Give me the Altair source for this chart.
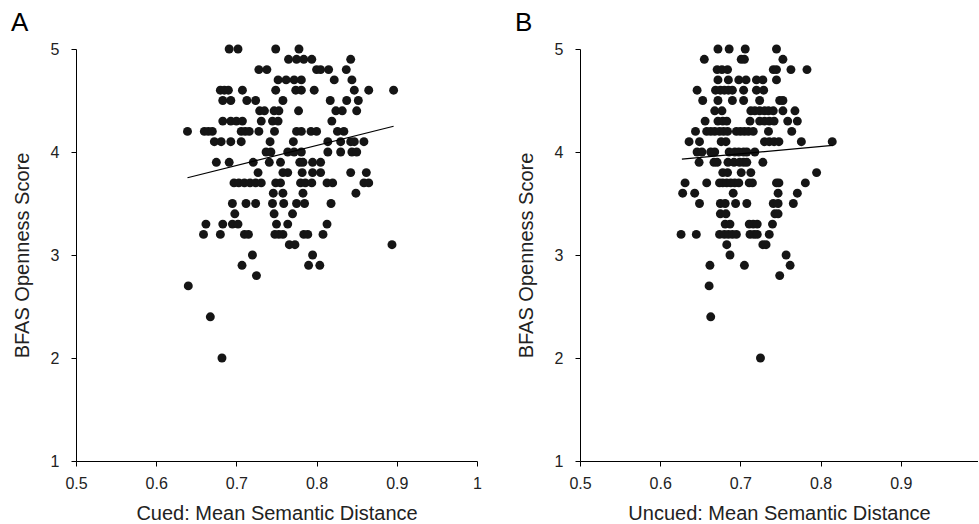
import altair as alt
import pandas as pd

# ---- Panel A (Cued) : BFAS score levels and mean semantic distance of each participant
cued_levels = [5.0, 4.9, 4.8, 4.7, 4.6, 4.5, 4.4, 4.3, 4.2, 4.1, 4.0, 3.9, 3.8, 3.7,
               3.6, 3.5, 3.4, 3.3, 3.2, 3.1, 3.0, 2.9, 2.8, 2.7, 2.4, 2.0]
cued_x_by_level = [
    [0.691, 0.702, 0.749, 0.778],
    [0.765, 0.775, 0.784, 0.794, 0.8425],
    [0.728, 0.738, 0.800, 0.805, 0.815, 0.837],
    [0.752, 0.762, 0.772, 0.781, 0.822, 0.844],
    [0.680, 0.685, 0.690, 0.7075, 0.749, 0.774, 0.781, 0.797, 0.847, 0.865, 0.896],
    [0.683, 0.693, 0.713, 0.724, 0.758, 0.817, 0.8375, 0.852],
    [0.729, 0.735, 0.747, 0.753, 0.7775, 0.824, 0.832, 0.850],
    [0.683, 0.693, 0.700, 0.7075, 0.731, 0.745, 0.752, 0.819],
    [0.639, 0.660, 0.665, 0.670, 0.706, 0.711, 0.716, 0.728, 0.7475, 0.775, 0.781,
     0.793, 0.800, 0.826, 0.834],
    [0.6725, 0.681, 0.693, 0.706, 0.742, 0.771, 0.814, 0.830, 0.8425, 0.847, 0.859],
    [0.737, 0.743, 0.764, 0.772, 0.781, 0.814, 0.830, 0.844, 0.850],
    [0.675, 0.691, 0.721, 0.741, 0.755, 0.779, 0.783, 0.795, 0.805],
    [0.727, 0.758, 0.764, 0.782, 0.795, 0.805, 0.8425, 0.862],
    [0.697, 0.703, 0.710, 0.717, 0.724, 0.731, 0.749, 0.755, 0.780, 0.786, 0.794,
     0.813, 0.820, 0.859, 0.865],
    [0.746, 0.758, 0.783, 0.849],
    [0.695, 0.712, 0.724, 0.745, 0.759, 0.775, 0.785, 0.818],
    [0.698, 0.747, 0.770],
    [0.662, 0.683, 0.695, 0.702, 0.750, 0.764, 0.813],
    [0.659, 0.680, 0.710, 0.715, 0.748, 0.753, 0.758, 0.784, 0.789, 0.808],
    [0.766, 0.773, 0.894],
    [0.720, 0.795],
    [0.707, 0.790, 0.804],
    [0.725],
    [0.640],
    [0.6675],
    [0.682],
]
cued_fit_x = [0.639, 0.896]
cued_fit_y = [3.75, 4.25]

# ---- Panel B (Uncued)
uncued_levels = [5.0, 4.9, 4.8, 4.7, 4.6, 4.5, 4.4, 4.3, 4.2, 4.1, 4.0, 3.9, 3.8, 3.7,
                 3.6, 3.5, 3.4, 3.3, 3.2, 3.1, 3.0, 2.9, 2.8, 2.7, 2.4, 2.0]
uncued_x_by_level = [
    [0.672, 0.686, 0.706, 0.745],
    [0.655, 0.701, 0.705, 0.753],
    [0.671, 0.677, 0.684, 0.741, 0.745, 0.763, 0.783],
    [0.672, 0.685, 0.698, 0.707, 0.720, 0.728, 0.745],
    [0.646, 0.669, 0.675, 0.680, 0.685, 0.690, 0.704, 0.720, 0.729],
    [0.653, 0.672, 0.690, 0.704, 0.724, 0.749, 0.753],
    [0.668, 0.677, 0.713, 0.718, 0.724, 0.730, 0.735, 0.741, 0.753, 0.768],
    [0.656, 0.672, 0.678, 0.683, 0.712, 0.724, 0.730, 0.736, 0.742, 0.759, 0.771],
    [0.644, 0.658, 0.663, 0.668, 0.674, 0.679, 0.684, 0.695, 0.700, 0.705, 0.710,
     0.716, 0.735, 0.764],
    [0.636, 0.649, 0.676, 0.682, 0.730, 0.736, 0.742, 0.748, 0.776, 0.8145],
    [0.646, 0.652, 0.663, 0.668, 0.686, 0.693, 0.698, 0.704, 0.708, 0.718],
    [0.6485, 0.667, 0.671, 0.6845, 0.692, 0.699, 0.704, 0.708, 0.728],
    [0.678, 0.684, 0.701, 0.713, 0.795],
    [0.631, 0.658, 0.674, 0.678, 0.683, 0.688, 0.693, 0.698, 0.711, 0.715, 0.745,
     0.748, 0.781],
    [0.628, 0.643, 0.691, 0.747, 0.771],
    [0.649, 0.675, 0.681, 0.694, 0.708, 0.741, 0.747, 0.766],
    [0.675, 0.682, 0.743, 0.747],
    [0.681, 0.687, 0.711, 0.716, 0.721, 0.740],
    [0.626, 0.645, 0.674, 0.680, 0.685, 0.690, 0.695, 0.712, 0.717, 0.721, 0.736],
    [0.683, 0.728, 0.732],
    [0.687, 0.757],
    [0.662, 0.705, 0.762],
    [0.749],
    [0.661],
    [0.663],
    [0.725],
]
uncued_fit_x = [0.627, 0.815]
uncued_fit_y = [3.93, 4.065]

x_ticks = [0.5, 0.6, 0.7, 0.8, 0.9, 1.0]
y_ticks = [1, 2, 3, 4, 5]

FONT = "Liberation Sans"
INK = "#151515"


def to_frame(levels, xs_by_level):
    rows = []
    for lev, xs in zip(levels, xs_by_level):
        for xv in xs:
            rows.append({"x": xv, "y": lev})
    return pd.DataFrame(rows)


def panel(levels, xs_by_level, fit_x, fit_y, xdomain, width, xtitle, letter):
    pts = to_frame(levels, xs_by_level)
    fit = pd.DataFrame({"x": fit_x, "y": fit_y})
    xs = alt.Scale(domain=xdomain, nice=False, zero=False)
    ys = alt.Scale(domain=[1, 5], nice=False, zero=False)
    xaxis = alt.Axis(values=[v for v in x_ticks if v <= xdomain[1]], format="~g",
                     title=xtitle, grid=False, labelFlush=False, labelPadding=9,
                     titlePadding=12)
    yaxis = alt.Axis(values=y_ticks, format="d", title="BFAS Openness Score", grid=False,
                     labelFlush=False, labelPadding=12, titlePadding=18)
    points = alt.Chart(pts).mark_circle(size=80, color=INK, opacity=1).encode(
        x=alt.X("x:Q", scale=xs, axis=xaxis),
        y=alt.Y("y:Q", scale=ys, axis=yaxis),
    )
    line = alt.Chart(fit).mark_line(color="black", strokeWidth=1.2).encode(
        x=alt.X("x:Q", scale=xs),
        y=alt.Y("y:Q", scale=ys),
    )
    return alt.layer(points, line).properties(
        width=width, height=412,
        title=alt.TitleParams(letter, anchor="start", frame="bounds", fontSize=26,
                              fontWeight="normal", font=FONT, color="black", offset=5,
                              dx=-1),
    )


pa = panel(cued_levels, cued_x_by_level, cued_fit_x, cued_fit_y, [0.5, 1.0], 401,
           "Cued: Mean Semantic Distance", "A")
pb = panel(uncued_levels, uncued_x_by_level, uncued_fit_x, uncued_fit_y, [0.5, 0.99625], 398,
           "Uncued: Mean Semantic Distance", "B")

chart = alt.hconcat(pa, pb, spacing=33).properties(
    padding={"left": 11, "top": 10, "right": 0, "bottom": 0}
).configure_view(stroke=None).configure_axis(
    domainColor="black", domainWidth=1, tickColor="black", tickWidth=1, tickSize=5,
    labelFont=FONT, labelFontSize=16, labelColor="#222",
    titleFont=FONT, titleFontSize=20, titleFontWeight="normal", titleColor="#222",
)

chart.save("out.html", embed_options={"renderer": "svg", "actions": False})
